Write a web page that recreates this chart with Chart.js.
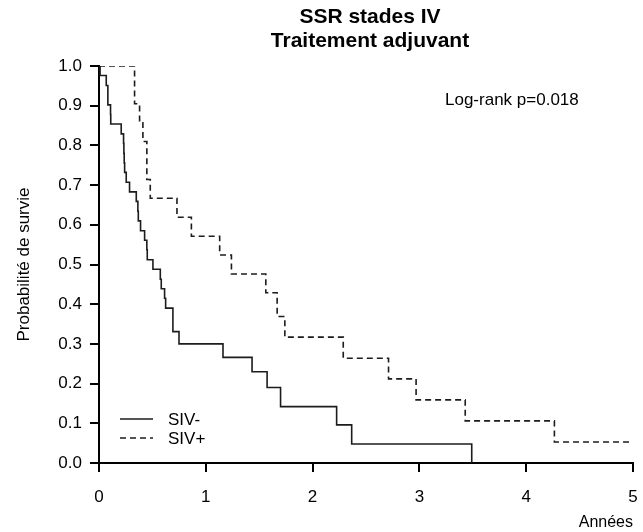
<!DOCTYPE html>
<html>
<head>
<meta charset="utf-8">
<script src="https://cdn.jsdelivr.net/npm/chart.js@4.4.1/dist/chart.umd.min.js"></script>
<style>
  html, body { margin: 0; padding: 0; background: #fff; }
</style>
</head>
<body>
<canvas id="km" width="643" height="532"></canvas>
<script>
// Kaplan-Meier, SSR stades IV : temps en années, survie après chaque événement
const timesNeg = [0, 0.01, 0.068, 0.083, 0.108, 0.11, 0.208, 0.23, 0.233, 0.236, 0.24, 0.255, 0.286,
  0.349, 0.364, 0.368, 0.389, 0.427, 0.448, 0.452, 0.505, 0.574, 0.583, 0.614, 0.624, 0.692, 0.749,
  1.161, 1.433, 1.574, 1.70, 2.225, 2.366, 3.49]
const survNeg = [1.0, 0.976, 0.951, 0.902, 0.878, 0.854, 0.829, 0.805, 0.780, 0.756, 0.732, 0.707, 0.683,
  0.659, 0.634, 0.610, 0.585, 0.561, 0.537, 0.512, 0.488, 0.463, 0.439, 0.415, 0.390, 0.331, 0.300,
  0.266, 0.230, 0.190, 0.142, 0.096, 0.048, 0.0]

const timesPos = [0, 0.333, 0.380, 0.411, 0.448, 0.480, 0.730, 0.865, 1.130, 1.240, 1.562, 1.668,
  1.740, 2.287, 2.711, 2.969, 3.429, 4.264, 5.0]
const survPos = [1.0, 0.905, 0.857, 0.810, 0.714, 0.667, 0.619, 0.571, 0.524, 0.476, 0.429, 0.369,
  0.317, 0.264, 0.212, 0.159, 0.106, 0.053, 0.053]

const groupLabels = ['SIV-', 'SIV+']
const titleLines = ['SSR stades IV', 'Traitement adjuvant']
const logRankText = 'Log-rank p=0.018'
const xTicks = [0, 1, 2, 3, 4, 5]
const yTicks = [0, 0.1, 0.2, 0.3, 0.4, 0.5, 0.6, 0.7, 0.8, 0.9, 1.0]

const FONT = '"Liberation Sans", Arial, sans-serif'
Chart.defaults.font.family = FONT
Chart.defaults.color = '#000'

const toPoints = (xs, ys) => xs.map((x, i) => ({ x: x, y: ys[i] }))

// titre, p du log-rank et légende dessinés dans le graphique
const extras = {
  id: 'extras',
  afterDraw(chart) {
    const c = chart.ctx
    const area = chart.chartArea
    c.save()
    c.fillStyle = '#000'
    c.textBaseline = 'middle'

    c.textAlign = 'center'
    c.font = 'bold 21px ' + FONT
    const cx = (area.left + area.right) / 2 + 4
    c.fillText(titleLines[0], cx, 17)
    c.fillText(titleLines[1], cx, 41)

    c.textAlign = 'left'
    c.font = '17px ' + FONT
    c.fillText(logRankText, 445, 100)

    chart.data.datasets.forEach((ds, i) => {
      const y = 419 + i * 19
      c.strokeStyle = ds.borderColor
      c.lineWidth = ds.borderWidth
      c.setLineDash(ds.borderDash || [])
      c.beginPath()
      c.moveTo(120, y)
      c.lineTo(153, y)
      c.stroke()
      c.setLineDash([])
      c.fillText(ds.label, 168, y + 1)
    })
    c.restore()
  }
}

new Chart(document.getElementById('km'), {
  type: 'line',
  data: {
    datasets: [{
      label: groupLabels[0],
      data: toPoints(timesNeg, survNeg),
      borderColor: '#1c1c1c',
      borderWidth: 1.6,
      stepped: 'before',
      pointRadius: 0
    }, {
      label: groupLabels[1],
      data: toPoints(timesPos, survPos),
      borderColor: '#1c1c1c',
      borderWidth: 1.6,
      borderDash: [6, 4],
      stepped: 'before',
      pointRadius: 0
    }]
  },
  options: {
    responsive: false,
    animation: false,
    layout: { padding: { top: 66, right: 10, left: 0, bottom: 0 } },
    plugins: {
      legend: { display: false },
      tooltip: { enabled: false }
    },
    scales: {
      x: {
        type: 'linear',
        min: 0,
        max: 5,
        afterBuildTicks: s => { s.ticks = xTicks.map(v => ({ value: v })) },
        ticks: { font: { size: 17 }, padding: 15, color: '#000' },
        grid: { drawOnChartArea: false, tickLength: 9, color: '#000', lineWidth: 2 },
        border: { display: true, color: '#000', width: 2 },
        title: { display: true, text: 'Années', align: 'end', font: { size: 16 }, padding: { top: 0, bottom: 0 } },
        afterFit: s => { s.height = 69; s.paddingLeft = 0; s.paddingRight = 0 }
      },
      y: {
        type: 'linear',
        min: 0,
        max: 1,
        afterBuildTicks: s => { s.ticks = yTicks.map(v => ({ value: v })) },
        ticks: { font: { size: 17 }, padding: 8, color: '#000', callback: v => v.toFixed(1) },
        grid: { drawOnChartArea: false, tickLength: 9, color: '#000', lineWidth: 2 },
        border: { display: true, color: '#000', width: 2 },
        title: { display: true, text: 'Probabilité de survie', font: { size: 17 }, padding: { top: 14 } },
        afterFit: s => { s.width = 99 }
      }
    }
  },
  plugins: [extras]
})
</script>
</body>
</html>
